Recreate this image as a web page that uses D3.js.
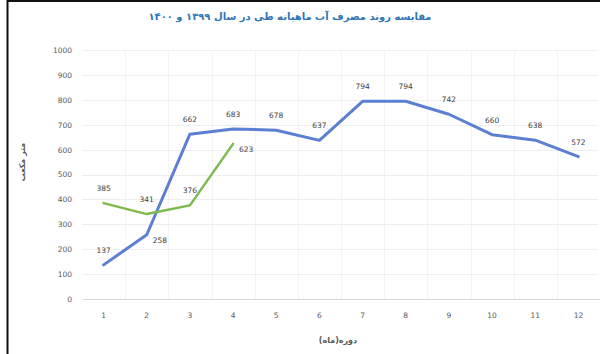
<!DOCTYPE html>
<html>
<head>
<meta charset="utf-8">
<script src="https://cdn.jsdelivr.net/npm/d3@7/dist/d3.min.js"></script>
<style>
  html, body { margin: 0; padding: 0; background: #fff; }
  svg { display: block; }
</style>
</head>
<body>
<svg id="chart" width="600" height="354"></svg>
<script>
// Monthly water use, two years
const months = ["1","2","3","4","5","6","7","8","9","10","11","12"];
const year1399 = [137, 258, 662, 683, 678, 637, 794, 794, 742, 660, 638, 572];
const year1400 = [385, 341, 376, 623];
const yTicks = [0, 100, 200, 300, 400, 500, 600, 700, 800, 900, 1000];
const titleText = "مقایسه روند مصرف آب ماهیانه طی در سال ۱۳۹۹ و ۱۴۰۰";
const yTitle = "متر مکعب";
const xTitle = "دوره(ماه)";

// label placement per point: "above" or "right"
const place1399 = ["above","right","above","above","above","above","above","above","above","above","above","above"];
const place1400 = ["above","above","above","right"];

const svg = d3.select("#chart");
const W = 600, H = 354;
const m = { left: 82, right: 0, top: 50, bottom: 55 };

svg.append("rect").attr("width", W).attr("height", H).attr("fill", "#fff");

const x = d3.scaleBand().domain(months).range([m.left, W - m.right]);
const y = d3.scaleLinear().domain([0, 1000]).range([H - m.bottom, m.top]);

const font = "'DejaVu Sans', sans-serif";

// gridlines
const g = svg.append("g");
g.selectAll("line.h").data(yTicks.slice(1)).join("line")
  .attr("x1", m.left).attr("x2", W - 2)
  .attr("y1", d => Math.round(y(d)) + 0.5).attr("y2", d => Math.round(y(d)) + 0.5)
  .attr("stroke", "#eeeeee").attr("stroke-width", 1);
g.selectAll("line.v").data(months.slice(1)).join("line")
  .attr("x1", d => Math.round(x(d)) + 0.5).attr("x2", d => Math.round(x(d)) + 0.5)
  .attr("y1", y(1000)).attr("y2", y(0))
  .attr("stroke", "#f3f3f3").attr("stroke-width", 1);

// y axis labels
const yAxis = d3.axisLeft(y).tickValues(yTicks).tickFormat(d3.format("d")).tickSize(0).tickPadding(10);
const ya = svg.append("g").attr("transform", `translate(${m.left},0)`).call(yAxis);
ya.select(".domain").remove();
ya.selectAll("text").attr("font-family", font).attr("font-size", 7.5).attr("fill", "#595959");

// x axis
const xAxis = d3.axisBottom(x).tickSize(0).tickPadding(14);
const xa = svg.append("g").attr("transform", `translate(0,${y(0)})`).call(xAxis);
xa.select(".domain").attr("stroke", "#d9d9d9").attr("stroke-width", 1);
xa.selectAll("text").attr("font-family", font).attr("font-size", 7.5).attr("fill", "#595959");

// series lines
const cx = d => x(d) + x.bandwidth() / 2;
const line = d3.line().x((d, i) => cx(months[i])).y(d => y(d));

svg.append("path").datum(year1399).attr("d", line)
  .attr("fill", "none").attr("stroke", "#5b7fd2").attr("stroke-width", 3)
  .attr("stroke-linejoin", "round").attr("stroke-linecap", "round");
svg.append("path").datum(year1400).attr("d", line)
  .attr("fill", "none").attr("stroke", "#7dba4e").attr("stroke-width", 2.5)
  .attr("stroke-linejoin", "round").attr("stroke-linecap", "round");

// data labels
function labels(values, places) {
  svg.append("g").selectAll("text").data(values).join("text")
    .attr("x", (d, i) => cx(months[i]) + (places[i] === "right" ? 6 : 0))
    .attr("y", (d, i) => y(d) + (places[i] === "right" ? 8 : -12))
    .attr("text-anchor", (d, i) => places[i] === "right" ? "start" : "middle")
    .attr("font-family", font).attr("font-size", 7.5).attr("fill", "#404040")
    .text(d => d);
}
labels(year1399, place1399);
labels(year1400, place1400);

// titles
svg.append("text").attr("x", 290).attr("y", 20)
  .attr("text-anchor", "middle").attr("direction", "rtl")
  .attr("font-family", font).attr("font-size", 10).attr("font-weight", "bold")
  .attr("fill", "#2e75b6").text(titleText);

svg.append("text").attr("transform", "translate(25,162) rotate(-90)")
  .attr("text-anchor", "middle").attr("direction", "rtl")
  .attr("font-family", font).attr("font-size", 8).attr("font-weight", "bold")
  .attr("fill", "#595959").text(yTitle);

svg.append("text").attr("x", 338).attr("y", 343)
  .attr("text-anchor", "middle").attr("direction", "rtl")
  .attr("font-family", font).attr("font-size", 8).attr("font-weight", "bold")
  .attr("fill", "#595959").text(xTitle);

// frame edges
svg.append("line").attr("x1", 7.5).attr("x2", 7.5).attr("y1", 0).attr("y2", H)
  .attr("stroke", "#111").attr("stroke-width", 2);
svg.append("line").attr("x1", 7).attr("x2", W).attr("y1", 1).attr("y2", 1)
  .attr("stroke", "#111").attr("stroke-width", 2);
</script>
</body>
</html>
